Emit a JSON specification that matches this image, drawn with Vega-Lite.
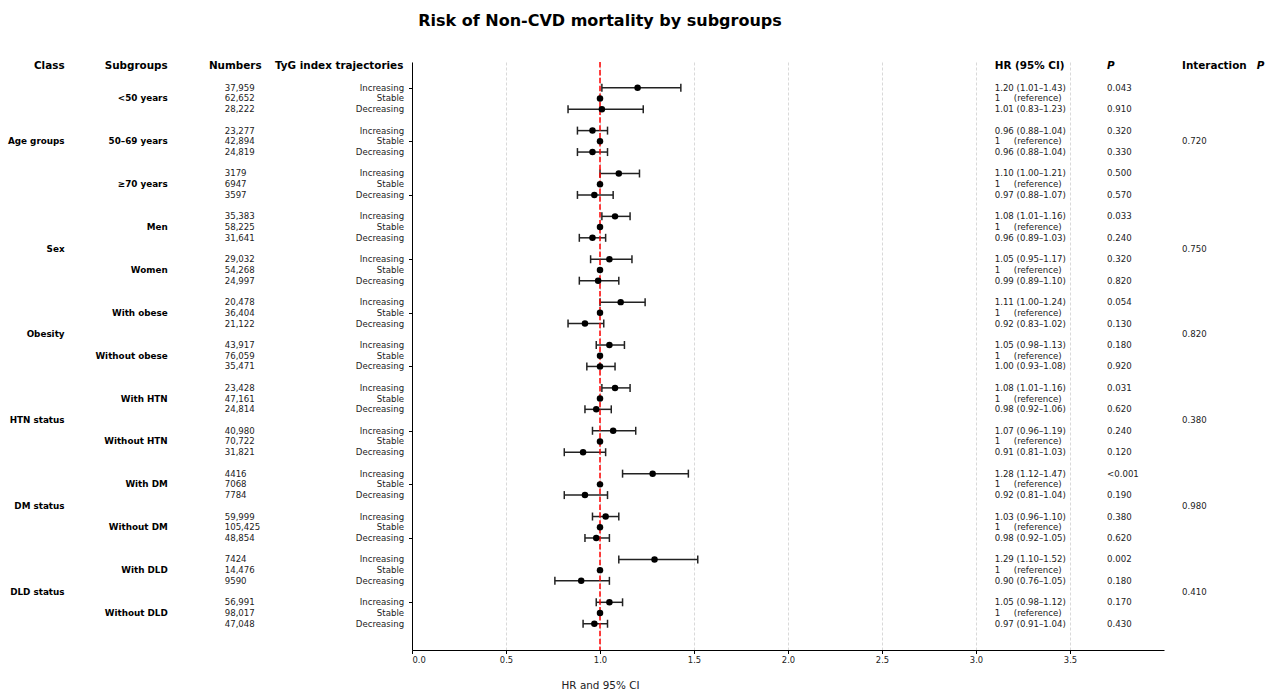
{
  "$schema": "https://vega.github.io/schema/vega-lite/v6.json",
  "width": 752,
  "height": 588,
  "autosize": {"type": "none"},
  "padding": {"left": 412, "top": 62, "right": 112, "bottom": 43},
  "background": "white",
  "title": {"text": "Risk of Non-CVD mortality by subgroups", "font": "DejaVu Sans", "fontSize": 16, "fontWeight": "bold", "color": "black", "anchor": "middle", "frame": "group", "dx": -188, "offset": 32},
  "config": {"view": {"stroke": null}, "font": "DejaVu Sans"},
  "datasets": {
    "rows": [
      {"idx": 0, "traj": "Increasing", "n": "37,959", "hr": 1.20, "lo": 1.01, "hi": 1.43, "hrtext": "1.20 (1.01–1.43)", "p": "0.043"},
      {"idx": 1, "traj": "Stable", "n": "62,652", "hr": 1, "lo": null, "hi": null, "hrtext": "1\u00a0\u00a0\u00a0\u00a0\u00a0(reference)", "p": ""},
      {"idx": 2, "traj": "Decreasing", "n": "28,222", "hr": 1.01, "lo": 0.83, "hi": 1.23, "hrtext": "1.01 (0.83–1.23)", "p": "0.910"},
      {"idx": 4, "traj": "Increasing", "n": "23,277", "hr": 0.96, "lo": 0.88, "hi": 1.04, "hrtext": "0.96 (0.88–1.04)", "p": "0.320"},
      {"idx": 5, "traj": "Stable", "n": "42,894", "hr": 1, "lo": null, "hi": null, "hrtext": "1\u00a0\u00a0\u00a0\u00a0\u00a0(reference)", "p": ""},
      {"idx": 6, "traj": "Decreasing", "n": "24,819", "hr": 0.96, "lo": 0.88, "hi": 1.04, "hrtext": "0.96 (0.88–1.04)", "p": "0.330"},
      {"idx": 8, "traj": "Increasing", "n": "3179", "hr": 1.10, "lo": 1.00, "hi": 1.21, "hrtext": "1.10 (1.00–1.21)", "p": "0.500"},
      {"idx": 9, "traj": "Stable", "n": "6947", "hr": 1, "lo": null, "hi": null, "hrtext": "1\u00a0\u00a0\u00a0\u00a0\u00a0(reference)", "p": ""},
      {"idx": 10, "traj": "Decreasing", "n": "3597", "hr": 0.97, "lo": 0.88, "hi": 1.07, "hrtext": "0.97 (0.88–1.07)", "p": "0.570"},
      {"idx": 12, "traj": "Increasing", "n": "35,383", "hr": 1.08, "lo": 1.01, "hi": 1.16, "hrtext": "1.08 (1.01–1.16)", "p": "0.033"},
      {"idx": 13, "traj": "Stable", "n": "58,225", "hr": 1, "lo": null, "hi": null, "hrtext": "1\u00a0\u00a0\u00a0\u00a0\u00a0(reference)", "p": ""},
      {"idx": 14, "traj": "Decreasing", "n": "31,641", "hr": 0.96, "lo": 0.89, "hi": 1.03, "hrtext": "0.96 (0.89–1.03)", "p": "0.240"},
      {"idx": 16, "traj": "Increasing", "n": "29,032", "hr": 1.05, "lo": 0.95, "hi": 1.17, "hrtext": "1.05 (0.95–1.17)", "p": "0.320"},
      {"idx": 17, "traj": "Stable", "n": "54,268", "hr": 1, "lo": null, "hi": null, "hrtext": "1\u00a0\u00a0\u00a0\u00a0\u00a0(reference)", "p": ""},
      {"idx": 18, "traj": "Decreasing", "n": "24,997", "hr": 0.99, "lo": 0.89, "hi": 1.10, "hrtext": "0.99 (0.89–1.10)", "p": "0.820"},
      {"idx": 20, "traj": "Increasing", "n": "20,478", "hr": 1.11, "lo": 1.00, "hi": 1.24, "hrtext": "1.11 (1.00–1.24)", "p": "0.054"},
      {"idx": 21, "traj": "Stable", "n": "36,404", "hr": 1, "lo": null, "hi": null, "hrtext": "1\u00a0\u00a0\u00a0\u00a0\u00a0(reference)", "p": ""},
      {"idx": 22, "traj": "Decreasing", "n": "21,122", "hr": 0.92, "lo": 0.83, "hi": 1.02, "hrtext": "0.92 (0.83–1.02)", "p": "0.130"},
      {"idx": 24, "traj": "Increasing", "n": "43,917", "hr": 1.05, "lo": 0.98, "hi": 1.13, "hrtext": "1.05 (0.98–1.13)", "p": "0.180"},
      {"idx": 25, "traj": "Stable", "n": "76,059", "hr": 1, "lo": null, "hi": null, "hrtext": "1\u00a0\u00a0\u00a0\u00a0\u00a0(reference)", "p": ""},
      {"idx": 26, "traj": "Decreasing", "n": "35,471", "hr": 1.00, "lo": 0.93, "hi": 1.08, "hrtext": "1.00 (0.93–1.08)", "p": "0.920"},
      {"idx": 28, "traj": "Increasing", "n": "23,428", "hr": 1.08, "lo": 1.01, "hi": 1.16, "hrtext": "1.08 (1.01–1.16)", "p": "0.031"},
      {"idx": 29, "traj": "Stable", "n": "47,161", "hr": 1, "lo": null, "hi": null, "hrtext": "1\u00a0\u00a0\u00a0\u00a0\u00a0(reference)", "p": ""},
      {"idx": 30, "traj": "Decreasing", "n": "24,814", "hr": 0.98, "lo": 0.92, "hi": 1.06, "hrtext": "0.98 (0.92–1.06)", "p": "0.620"},
      {"idx": 32, "traj": "Increasing", "n": "40,980", "hr": 1.07, "lo": 0.96, "hi": 1.19, "hrtext": "1.07 (0.96–1.19)", "p": "0.240"},
      {"idx": 33, "traj": "Stable", "n": "70,722", "hr": 1, "lo": null, "hi": null, "hrtext": "1\u00a0\u00a0\u00a0\u00a0\u00a0(reference)", "p": ""},
      {"idx": 34, "traj": "Decreasing", "n": "31,821", "hr": 0.91, "lo": 0.81, "hi": 1.03, "hrtext": "0.91 (0.81–1.03)", "p": "0.120"},
      {"idx": 36, "traj": "Increasing", "n": "4416", "hr": 1.28, "lo": 1.12, "hi": 1.47, "hrtext": "1.28 (1.12–1.47)", "p": "<0.001"},
      {"idx": 37, "traj": "Stable", "n": "7068", "hr": 1, "lo": null, "hi": null, "hrtext": "1\u00a0\u00a0\u00a0\u00a0\u00a0(reference)", "p": ""},
      {"idx": 38, "traj": "Decreasing", "n": "7784", "hr": 0.92, "lo": 0.81, "hi": 1.04, "hrtext": "0.92 (0.81–1.04)", "p": "0.190"},
      {"idx": 40, "traj": "Increasing", "n": "59,999", "hr": 1.03, "lo": 0.96, "hi": 1.10, "hrtext": "1.03 (0.96–1.10)", "p": "0.380"},
      {"idx": 41, "traj": "Stable", "n": "105,425", "hr": 1, "lo": null, "hi": null, "hrtext": "1\u00a0\u00a0\u00a0\u00a0\u00a0(reference)", "p": ""},
      {"idx": 42, "traj": "Decreasing", "n": "48,854", "hr": 0.98, "lo": 0.92, "hi": 1.05, "hrtext": "0.98 (0.92–1.05)", "p": "0.620"},
      {"idx": 44, "traj": "Increasing", "n": "7424", "hr": 1.29, "lo": 1.10, "hi": 1.52, "hrtext": "1.29 (1.10–1.52)", "p": "0.002"},
      {"idx": 45, "traj": "Stable", "n": "14,476", "hr": 1, "lo": null, "hi": null, "hrtext": "1\u00a0\u00a0\u00a0\u00a0\u00a0(reference)", "p": ""},
      {"idx": 46, "traj": "Decreasing", "n": "9590", "hr": 0.90, "lo": 0.76, "hi": 1.05, "hrtext": "0.90 (0.76–1.05)", "p": "0.180"},
      {"idx": 48, "traj": "Increasing", "n": "56,991", "hr": 1.05, "lo": 0.98, "hi": 1.12, "hrtext": "1.05 (0.98–1.12)", "p": "0.170"},
      {"idx": 49, "traj": "Stable", "n": "98,017", "hr": 1, "lo": null, "hi": null, "hrtext": "1\u00a0\u00a0\u00a0\u00a0\u00a0(reference)", "p": ""},
      {"idx": 50, "traj": "Decreasing", "n": "47,048", "hr": 0.97, "lo": 0.91, "hi": 1.04, "hrtext": "0.97 (0.91–1.04)", "p": "0.430"}
    ],
    "subs": [
      {"idx": 1, "label": "<50 years"},
      {"idx": 5, "label": "50–69 years"},
      {"idx": 9, "label": "≥70 years"},
      {"idx": 13, "label": "Men"},
      {"idx": 17, "label": "Women"},
      {"idx": 21, "label": "With obese"},
      {"idx": 25, "label": "Without obese"},
      {"idx": 29, "label": "With HTN"},
      {"idx": 33, "label": "Without HTN"},
      {"idx": 37, "label": "With DM"},
      {"idx": 41, "label": "Without DM"},
      {"idx": 45, "label": "With DLD"},
      {"idx": 49, "label": "Without DLD"}
    ],
    "classes": [
      {"idx": 5, "label": "Age groups", "pint": "0.720"},
      {"idx": 15, "label": "Sex", "pint": "0.750"},
      {"idx": 23, "label": "Obesity", "pint": "0.820"},
      {"idx": 31, "label": "HTN status", "pint": "0.380"},
      {"idx": 39, "label": "DM status", "pint": "0.980"},
      {"idx": 47, "label": "DLD status", "pint": "0.410"}
    ],
    "headers": [
      {"h": "Class", "col": "class"},
      {"h": "Subgroups", "col": "sub"},
      {"h": "Numbers", "col": "num"},
      {"h": "TyG index trajectories", "col": "traj"},
      {"h": "HR (95% CI)", "col": "hr"},
      {"h": "P", "col": "p"},
      {"h": "Interaction", "col": "int"},
      {"h": "P", "col": "intp"}
    ]
  },
  "layer": [
    {
      "data": {"name": "rows"},
      "mark": {"type": "rule", "color": "#222222", "strokeWidth": 1.5},
      "encoding": {
        "x": {"field": "lo", "type": "quantitative", "title": "HR and 95% CI",
          "scale": {"domain": [0, 4], "nice": false, "zero": false},
          "axis": {"values": [0, 0.5, 1, 1.5, 2, 2.5, 3, 3.5], "format": ".1f", "grid": true, "gridDash": [3, 2], "gridColor": "#cfcfcf", "gridWidth": 0.8,
            "domainColor": "black", "domainWidth": 1, "tickColor": "black", "tickSize": 3.5, "tickWidth": 1,
            "labelFont": "DejaVu Sans", "labelFontSize": 8.4, "labelColor": "#222222", "labelPadding": 1.5,
            "title": "HR and 95% CI", "titleFont": "DejaVu Sans", "titleFontSize": 10.4, "titleFontWeight": "normal", "titleColor": "#222222",
            "titleX": 188, "titleY": 35, "titleAlign": "center", "titleBaseline": "middle", "titleAnchor": null}},
        "x2": {"field": "hi"},
        "y": {"field": "idx", "type": "quantitative", "title": null,
          "scale": {"domain": [-2.4, 52.45], "reverse": true, "nice": false, "zero": false},
          "axis": {"values": [0,1,2,4,5,6,8,9,10,12,13,14,16,17,18,20,21,22,24,25,26,28,29,30,32,33,34,36,37,38,40,41,42,44,45,46,48,49,50],
            "labels": false, "ticks": true, "tickSize": 3.5, "tickColor": "black", "tickWidth": 1, "domainColor": "black", "domainWidth": 1, "grid": false, "title": null}}
      }
    },
    {
      "data": {"name": "rows"},
      "mark": {"type": "tick", "orient": "vertical", "color": "#222222", "size": 8, "thickness": 1.5, "opacity": 1},
      "encoding": {"x": {"field": "lo", "type": "quantitative", "title": "HR and 95% CI"}, "y": {"field": "idx", "type": "quantitative", "title": null}}
    },
    {
      "data": {"name": "rows"},
      "mark": {"type": "tick", "orient": "vertical", "color": "#222222", "size": 8, "thickness": 1.5, "opacity": 1},
      "encoding": {"x": {"field": "hi", "type": "quantitative", "title": "HR and 95% CI"}, "y": {"field": "idx", "type": "quantitative", "title": null}}
    },
    {
      "data": {"values": [{"ref": 1}]},
      "mark": {"type": "rule", "color": "red", "strokeWidth": 1.5, "strokeDash": [5.5, 2.4]},
      "encoding": {"x": {"field": "ref", "type": "quantitative", "title": "HR and 95% CI"}}
    },
    {
      "data": {"name": "rows"},
      "mark": {"type": "circle", "color": "black", "size": 42, "opacity": 1},
      "encoding": {"x": {"field": "hr", "type": "quantitative", "title": "HR and 95% CI"}, "y": {"field": "idx", "type": "quantitative", "title": null}}
    },
    {
      "data": {"name": "rows"},
      "mark": {"type": "text", "align": "left", "baseline": "middle", "font": "DejaVu Sans", "fontSize": 8.6, "color": "#222222"},
      "encoding": {"x": {"datum": -0.9963}, "y": {"field": "idx", "type": "quantitative", "title": null}, "text": {"field": "n"}}
    },
    {
      "data": {"name": "rows"},
      "mark": {"type": "text", "align": "right", "baseline": "middle", "font": "DejaVu Sans", "fontSize": 8.6, "color": "#222222"},
      "encoding": {"x": {"datum": -0.042}, "y": {"field": "idx", "type": "quantitative", "title": null}, "text": {"field": "traj"}}
    },
    {
      "data": {"name": "rows"},
      "mark": {"type": "text", "align": "left", "baseline": "middle", "font": "DejaVu Sans", "fontSize": 8.6, "color": "#222222"},
      "encoding": {"x": {"datum": 3.0995}, "y": {"field": "idx", "type": "quantitative", "title": null}, "text": {"field": "hrtext"}}
    },
    {
      "data": {"name": "rows"},
      "mark": {"type": "text", "align": "left", "baseline": "middle", "font": "DejaVu Sans", "fontSize": 8.6, "color": "#222222"},
      "encoding": {"x": {"datum": 3.697}, "y": {"field": "idx", "type": "quantitative", "title": null}, "text": {"field": "p"}}
    },
    {
      "data": {"name": "subs"},
      "mark": {"type": "text", "align": "right", "baseline": "middle", "font": "DejaVu Sans", "fontSize": 8.8, "fontWeight": "bold", "color": "black"},
      "encoding": {"x": {"datum": -1.2995}, "y": {"field": "idx", "type": "quantitative", "title": null}, "text": {"field": "label"}}
    },
    {
      "data": {"name": "classes"},
      "mark": {"type": "text", "align": "right", "baseline": "middle", "font": "DejaVu Sans", "fontSize": 8.8, "fontWeight": "bold", "color": "black"},
      "encoding": {"x": {"datum": -1.848}, "y": {"field": "idx", "type": "quantitative", "title": null}, "text": {"field": "label"}}
    },
    {
      "data": {"name": "classes"},
      "mark": {"type": "text", "align": "left", "baseline": "middle", "font": "DejaVu Sans", "fontSize": 8.6, "color": "#222222"},
      "encoding": {"x": {"datum": 4.096}, "y": {"field": "idx", "type": "quantitative", "title": null}, "text": {"field": "pint"}}
    },
    {
      "data": {"name": "headers"},
      "transform": [{"filter": "datum.col == 'class'"}],
      "mark": {"type": "text", "align": "right", "baseline": "middle", "font": "DejaVu Sans", "fontSize": 10.4, "fontWeight": "bold", "color": "black"},
      "encoding": {"x": {"datum": -1.848}, "y": {"datum": -2}, "text": {"field": "h"}}
    },
    {
      "data": {"name": "headers"},
      "transform": [{"filter": "datum.col == 'sub'"}],
      "mark": {"type": "text", "align": "right", "baseline": "middle", "font": "DejaVu Sans", "fontSize": 10.4, "fontWeight": "bold", "color": "black"},
      "encoding": {"x": {"datum": -1.2995}, "y": {"datum": -2}, "text": {"field": "h"}}
    },
    {
      "data": {"name": "headers"},
      "transform": [{"filter": "datum.col == 'num'"}],
      "mark": {"type": "text", "align": "right", "baseline": "middle", "font": "DejaVu Sans", "fontSize": 10.4, "fontWeight": "bold", "color": "black"},
      "encoding": {"x": {"datum": -0.80}, "y": {"datum": -2}, "text": {"field": "h"}}
    },
    {
      "data": {"name": "headers"},
      "transform": [{"filter": "datum.col == 'traj'"}],
      "mark": {"type": "text", "align": "right", "baseline": "middle", "font": "DejaVu Sans", "fontSize": 10.4, "fontWeight": "bold", "color": "black"},
      "encoding": {"x": {"datum": -0.046}, "y": {"datum": -2}, "text": {"field": "h"}}
    },
    {
      "data": {"name": "headers"},
      "transform": [{"filter": "datum.col == 'hr'"}],
      "mark": {"type": "text", "align": "left", "baseline": "middle", "font": "DejaVu Sans", "fontSize": 10.4, "fontWeight": "bold", "color": "black"},
      "encoding": {"x": {"datum": 3.0995}, "y": {"datum": -2}, "text": {"field": "h"}}
    },
    {
      "data": {"name": "headers"},
      "transform": [{"filter": "datum.col == 'p'"}],
      "mark": {"type": "text", "align": "left", "baseline": "middle", "font": "DejaVu Sans", "fontSize": 10.4, "fontWeight": "bold", "fontStyle": "italic", "color": "black"},
      "encoding": {"x": {"datum": 3.697}, "y": {"datum": -2}, "text": {"field": "h"}}
    },
    {
      "data": {"name": "headers"},
      "transform": [{"filter": "datum.col == 'int'"}],
      "mark": {"type": "text", "align": "left", "baseline": "middle", "font": "DejaVu Sans", "fontSize": 10.4, "fontWeight": "bold", "color": "black"},
      "encoding": {"x": {"datum": 4.096}, "y": {"datum": -2}, "text": {"field": "h"}}
    },
    {
      "data": {"name": "headers"},
      "transform": [{"filter": "datum.col == 'intp'"}],
      "mark": {"type": "text", "align": "left", "baseline": "middle", "font": "DejaVu Sans", "fontSize": 10.4, "fontWeight": "bold", "fontStyle": "italic", "color": "black"},
      "encoding": {"x": {"datum": 4.493}, "y": {"datum": -2}, "text": {"field": "h"}}
    }
  ]
}
